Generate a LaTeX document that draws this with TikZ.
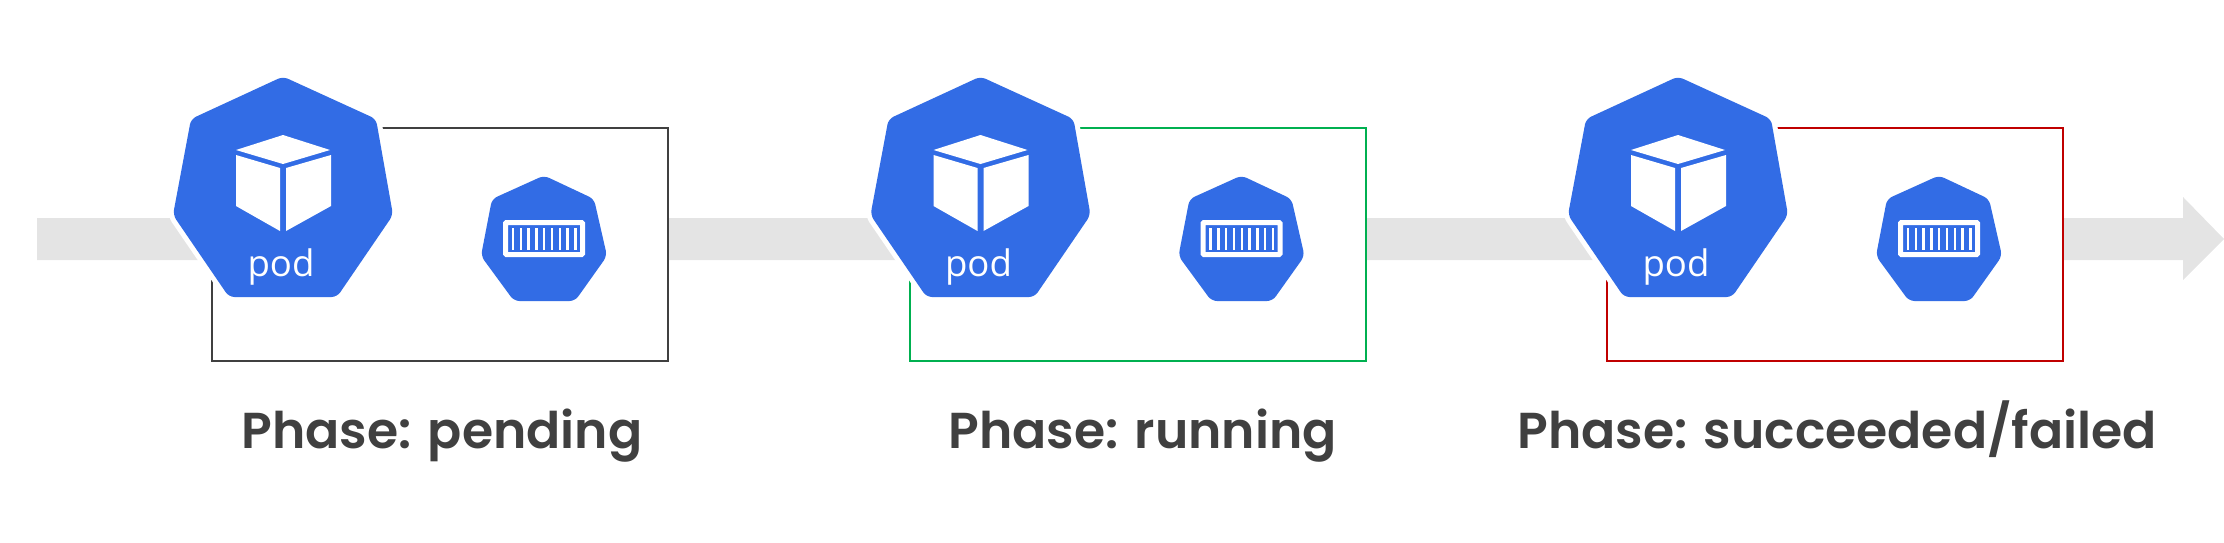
\documentclass[tikz,border=0pt]{standalone}
\usepackage{fontspec}
\setmainfont{Open Sans}
\newfontfamily\phasefont[UprightFont=* SemiBold]{Poppins}
\usetikzlibrary{positioning}

\definecolor{podblue}{HTML}{326CE5}
\definecolor{flowgray}{HTML}{E4E4E4}
\definecolor{labelgray}{HTML}{404040}
\definecolor{okgreen}{HTML}{00B050}
\definecolor{badred}{HTML}{C00000}

\begin{document}
\begin{tikzpicture}[x=0.01cm, y=-0.01cm,
    podshape/.style={fill=podblue, rounded corners=0.055cm},
    podhalo/.style={draw=white, fill=white, line width=0.1cm, rounded corners=0.055cm},
    boxline/.style={draw, line width=0.02cm, fill=white},
    phaselabel/.style={text=labelgray, inner sep=0pt, anchor=base west, font=\phasefont\fontsize{14.35}{16}\selectfont},
    podtext/.style={text=white, inner sep=0pt, anchor=base, font=\fontsize{10.4}{12}\selectfont}]

    \useasboundingbox (0,0) rectangle (2224,542);

    % timeline
    \path[fill=flowgray] (37,218) -- (2183,218) -- (2183,197) -- (2224,239) -- (2183,280) -- (2183,260) -- (37,260) -- cycle;

    \foreach \off/\col/\id in {0/labelgray/a, 697.5/okgreen/b, 1395/badred/c} {
        \begin{scope}[xshift=\off*0.01cm]
            \path[boxline, draw=\col] (381,128) -- (668,128) -- (668,361) -- (212,361) -- (212,278);

            % big pod
            \path[podhalo] (283,76.5) -- (376,119) -- (393,215) -- (337,297) -- (229,297) -- (173,215) -- (191,119) -- cycle;
            \path[podshape] (283,76.5) -- (376,119) -- (393,215) -- (337,297) -- (229,297) -- (173,215) -- (191,119) -- cycle;
            \path[fill=white] (283,135) -- (330,150) -- (283,164) -- (236,150) -- cycle;
            \path[fill=white] (236,155) -- (280,168) -- (280,231) -- (236,206) -- cycle;
            \path[fill=white] (286,168) -- (331,155) -- (331,206) -- (286,231) -- cycle;
            \node[podtext] (pod\id) at (281,276) {pod};

            % container
            \path[podshape] (544,175.5) -- (594,199) -- (607,256) -- (575,301) -- (514,301) -- (481,256) -- (492,199) -- cycle;
            \path[draw=white, line width=0.05cm, rounded corners=0.01cm] (505.5,222.5) rectangle (582.5,254.5);
            \foreach \i in {0,...,8}
                \path[fill=white] (513+\i*7.8-1.2,228) rectangle (513+\i*7.8+1.2,250);
        \end{scope}
    }

    \node[phaselabel] (pending) at (241,448) {Phase: pending};
    \node[phaselabel] (running) at (948,448) {Phase: running};
    \node[phaselabel] (done) at (1517,448) {Phase: succeeded/failed};
\end{tikzpicture}
\end{document}
